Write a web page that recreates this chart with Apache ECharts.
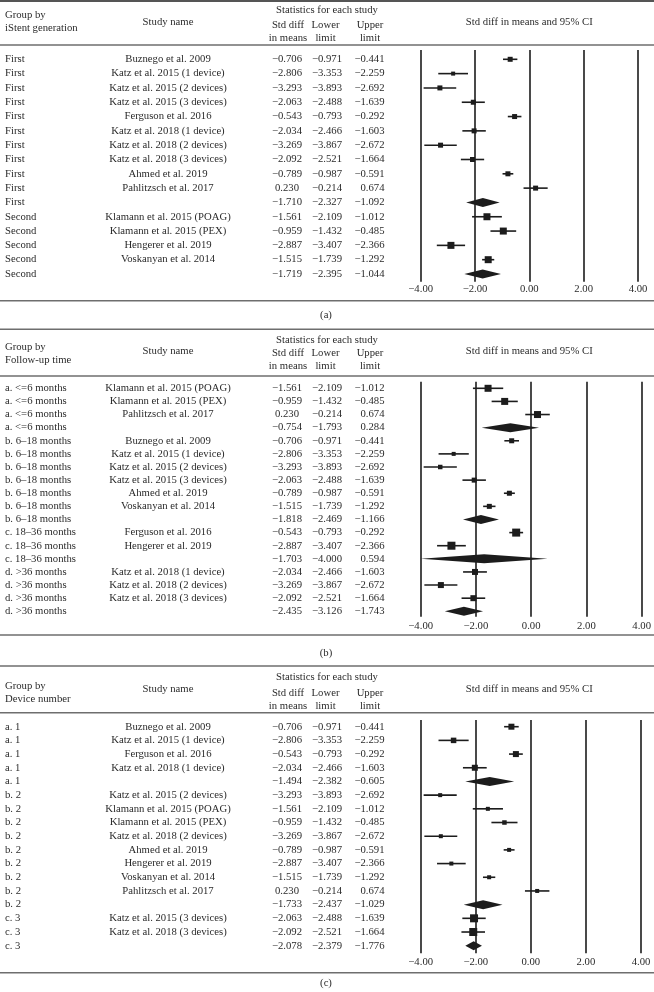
<!DOCTYPE html>
<html><head><meta charset="utf-8">
<script src="https://cdn.jsdelivr.net/npm/echarts@6/dist/echarts.min.js"></script>
<style>html,body{margin:0;padding:0;background:#fff}#c{width:654px;height:992px}</style>
</head><body><div id="c"></div>
<script>
// ---------- DATA ----------
const axisTicks = [-4, -2, 0, 2, 4];

const groupTitleA = ['Group by', 'iStent generation'];
const groupsA = ['First','First','First','First','First','First','First','First','First','First','First','Second','Second','Second','Second','Second'];
const studiesA = ['Buznego et al. 2009','Katz et al. 2015 (1 device)','Katz et al. 2015 (2 devices)','Katz et al. 2015 (3 devices)','Ferguson et al. 2016','Katz et al. 2018 (1 device)','Katz et al. 2018 (2 devices)','Katz et al. 2018 (3 devices)','Ahmed et al. 2019','Pahlitzsch et al. 2017','','Klamann et al. 2015 (POAG)','Klamann et al. 2015 (PEX)','Hengerer et al. 2019','Voskanyan et al. 2014',''];
const smdA   = [-0.706,-2.806,-3.293,-2.063,-0.543,-2.034,-3.269,-2.092,-0.789,0.230,-1.710,-1.561,-0.959,-2.887,-1.515,-1.719];
const lowerA = [-0.971,-3.353,-3.893,-2.488,-0.793,-2.466,-3.867,-2.521,-0.987,-0.214,-2.327,-2.109,-1.432,-3.407,-1.739,-2.395];
const upperA = [-0.441,-2.259,-2.692,-1.639,-0.292,-1.603,-2.672,-1.664,-0.591,0.674,-1.092,-1.012,-0.485,-2.366,-1.292,-1.044];
const weightA = [5,4,5,5,5,5,5,5,5,5,0,7,7,7,7,0];

const groupTitleB = ['Group by', 'Follow-up time'];
const groupsB = ['a. <=6 months','a. <=6 months','a. <=6 months','a. <=6 months','b. 6–18 months','b. 6–18 months','b. 6–18 months','b. 6–18 months','b. 6–18 months','b. 6–18 months','b. 6–18 months','c. 18–36 months','c. 18–36 months','c. 18–36 months','d. >36 months','d. >36 months','d. >36 months','d. >36 months'];
const studiesB = ['Klamann et al. 2015 (POAG)','Klamann et al. 2015 (PEX)','Pahlitzsch et al. 2017','','Buznego et al. 2009','Katz et al. 2015 (1 device)','Katz et al. 2015 (2 devices)','Katz et al. 2015 (3 devices)','Ahmed et al. 2019','Voskanyan et al. 2014','','Ferguson et al. 2016','Hengerer et al. 2019','','Katz et al. 2018 (1 device)','Katz et al. 2018 (2 devices)','Katz et al. 2018 (3 devices)',''];
const smdB   = [-1.561,-0.959,0.230,-0.754,-0.706,-2.806,-3.293,-2.063,-0.789,-1.515,-1.818,-0.543,-2.887,-1.703,-2.034,-3.269,-2.092,-2.435];
const lowerB = [-2.109,-1.432,-0.214,-1.793,-0.971,-3.353,-3.893,-2.488,-0.987,-1.739,-2.469,-0.793,-3.407,-4.000,-2.466,-3.867,-2.521,-3.126];
const upperB = [-1.012,-0.485,0.674,0.284,-0.441,-2.259,-2.692,-1.639,-0.591,-1.292,-1.166,-0.292,-2.366,0.594,-1.603,-2.672,-1.664,-1.743];
const weightB = [7,7,7,0,5,4,4.5,5,5,5,0,8,8,0,6,6,6,0];

const groupTitleC = ['Group by', 'Device number'];
const groupsC = ['a. 1','a. 1','a. 1','a. 1','a. 1','b. 2','b. 2','b. 2','b. 2','b. 2','b. 2','b. 2','b. 2','b. 2','c. 3','c. 3','c. 3'];
const studiesC = ['Buznego et al. 2009','Katz et al. 2015 (1 device)','Ferguson et al. 2016','Katz et al. 2018 (1 device)','','Katz et al. 2015 (2 devices)','Klamann et al. 2015 (POAG)','Klamann et al. 2015 (PEX)','Katz et al. 2018 (2 devices)','Ahmed et al. 2019','Hengerer et al. 2019','Voskanyan et al. 2014','Pahlitzsch et al. 2017','','Katz et al. 2015 (3 devices)','Katz et al. 2018 (3 devices)',''];
const smdC   = [-0.706,-2.806,-0.543,-2.034,-1.494,-3.293,-1.561,-0.959,-3.269,-0.789,-2.887,-1.515,0.230,-1.733,-2.063,-2.092,-2.078];
const lowerC = [-0.971,-3.353,-0.793,-2.466,-2.382,-3.893,-2.109,-1.432,-3.867,-0.987,-3.407,-1.739,-0.214,-2.437,-2.488,-2.521,-2.379];
const upperC = [-0.441,-2.259,-0.292,-1.603,-0.605,-2.692,-1.012,-0.485,-2.672,-0.591,-2.366,-1.292,0.674,-1.029,-1.639,-1.664,-1.776];
const weightC = [6,5.5,6,6,0,4,4,4.5,4,4,4,4,4,0,8,8,0];

const captions = ['(a)', '(b)', '(c)'];

// ---------- LAYOUT / STYLE ----------
const FONT = '"Liberation Serif","DejaVu Serif",serif';
const FS = 10.7;
const TXT = '#2b2b2b';
const INK = '#1c1c1c';
const RULE = '#6e6e6e';
const W = 654;

const layout = [
  {top:1, stats:10, g1:15, g2:28, s1:25, s2:38, name:21.7, rule:45,
   gridTop:50, rowFirst:59.3, rowLast:274, gridBottom:281.7, labelY:290, bottomRule:300.7, caption:315, xl:420.7, xr:638},
  {top:329.3, stats:340, g1:346.7, g2:360, s1:353.3, s2:365.7, name:351, rule:376,
   gridTop:381.7, rowFirst:388.3, rowLast:611.3, gridBottom:616.7, labelY:626.7, bottomRule:635, caption:653.3, xl:420.7, xr:643.3},
  {top:666, stats:676.7, g1:686, g2:699, s1:692.7, s2:705.7, name:689.3, rule:712.7,
   gridTop:720, rowFirst:726.7, rowLast:945.7, gridBottom:953.3, labelY:962.7, bottomRule:972.7, caption:983.3, xl:420.7, xr:641}
];
const col = {group:5, study:168, smd:287, lowerR:342, upperR:384.5, statsC:327, stdC:288, lowC:325.5, upC:370, ciC:529.3, capC:326};

const panelData = [
  {title:groupTitleA, groups:groupsA, studies:studiesA, smd:smdA, lower:lowerA, upper:upperA, weight:weightA},
  {title:groupTitleB, groups:groupsB, studies:studiesB, smd:smdB, lower:lowerB, upper:upperB, weight:weightB},
  {title:groupTitleC, groups:groupsC, studies:studiesC, smd:smdC, lower:lowerC, upper:upperC, weight:weightC}
];

function fmt(v, d) {
  const s = Math.abs(v).toFixed(d);
  return (v < 0 ? '\u2212' : '') + s;
}
function txt(text, x, y, align) {
  return {type:'text', x:x, y:y, silent:true,
    style:{text:text, fill:TXT, fontSize:FS, fontFamily:FONT,
      textAlign:align, align:align, textVerticalAlign:'middle', verticalAlign:'middle'}};
}
function hline(y, w, c) {
  return {type:'line', silent:true, shape:{x1:0, y1:y, x2:W, y2:y}, style:{stroke:c || RULE, lineWidth:w || 1.5}};
}

const grids = [], xAxes = [], yAxes = [], series = [], graphics = [];

panelData.forEach((p, k) => {
  const L = layout[k];
  const n = p.smd.length;
  const step = (L.rowLast - L.rowFirst) / (n - 1);
  const yMin = -(L.rowFirst - L.gridTop) / step;
  const yMax = (n - 1) + (L.gridBottom - L.rowLast) / step;

  grids.push({left:L.xl, top:L.gridTop, width:L.xr - L.xl, height:L.gridBottom - L.gridTop});
  xAxes.push({gridIndex:k, type:'value', min:axisTicks[0], max:axisTicks[axisTicks.length-1], interval:axisTicks[1]-axisTicks[0],
    axisLine:{show:false}, axisTick:{show:false},
    splitLine:{show:true, showMinLine:true, showMaxLine:true, lineStyle:{color:INK, width:1.6}},
    axisLabel:{formatter:v => fmt(v, 2), fontFamily:FONT, fontSize:FS, color:TXT,
      margin: L.labelY - L.gridBottom - FS/2 - 0.5, showMinLabel:true, showMaxLabel:true}});
  yAxes.push({gridIndex:k, type:'value', inverse:true, min:yMin, max:yMax, show:false});

  const rows = p.smd.map((v, i) => [v, i, p.lower[i], p.upper[i], p.weight[i]]);
  series.push({
    type:'custom', xAxisIndex:k, yAxisIndex:k, clip:false, silent:true,
    data:rows, encode:{x:0, y:1},
    renderItem:(params, api) => {
      const i = api.value(1);
      const m = api.coord([api.value(0), i]);
      const lo = api.coord([api.value(2), i])[0];
      const up = api.coord([api.value(3), i])[0];
      const y = m[1];
      const isSum = p.studies[i] === '';
      const ch = [];
      ch.push(txt(p.groups[i], col.group, y, 'left'));
      if (!isSum) ch.push(txt(p.studies[i], col.study, y, 'center'));
      ch.push(txt(fmt(p.smd[i], 3), col.smd, y, 'center'));
      ch.push(txt(fmt(p.lower[i], 3), col.lowerR, y, 'right'));
      ch.push(txt(fmt(p.upper[i], 3), col.upperR, y, 'right'));
      if (isSum) {
        const h = 4.5;
        ch.push({type:'polygon', shape:{points:[[lo, y], [m[0], y - h], [up, y], [m[0], y + h]]}, style:{fill:INK}});
      } else {
        const s = api.value(4);
        ch.push({type:'line', shape:{x1:lo, y1:y, x2:up, y2:y}, style:{stroke:INK, lineWidth:1.6}});
        ch.push({type:'rect', shape:{x:m[0] - s/2, y:y - s/2, width:s, height:s}, style:{fill:INK}});
      }
      return {type:'group', children:ch};
    }
  });

  // header & rules
  graphics.push(hline(L.top, k === 0 ? 2 : 1.5, k === 0 ? '#555' : RULE));
  graphics.push(hline(L.rule, 1.5));
  graphics.push(hline(L.bottomRule, 1.5));
  graphics.push(txt(p.title[0], col.group, L.g1, 'left'));
  graphics.push(txt(p.title[1], col.group, L.g2, 'left'));
  graphics.push(txt('Study name', col.study, L.name, 'center'));
  graphics.push(txt('Statistics for each study', col.statsC, L.stats, 'center'));
  graphics.push(txt('Std diff', col.stdC, L.s1, 'center'));
  graphics.push(txt('in means', col.stdC, L.s2, 'center'));
  graphics.push(txt('Lower', col.lowC, L.s1, 'center'));
  graphics.push(txt('limit', col.lowC, L.s2, 'center'));
  graphics.push(txt('Upper', col.upC, L.s1, 'center'));
  graphics.push(txt('limit', col.upC, L.s2, 'center'));
  graphics.push(txt('Std diff in means and 95% CI', col.ciC, L.name, 'center'));
  graphics.push(txt(captions[k], col.capC, L.caption, 'center'));
});

const chart = echarts.init(document.getElementById('c'), null, {renderer:'canvas'});
chart.setOption({
  backgroundColor:'#fff',
  animation:false,
  grid:grids, xAxis:xAxes, yAxis:yAxes, series:series,
  graphic:{elements:graphics}
});
</script></body></html>
